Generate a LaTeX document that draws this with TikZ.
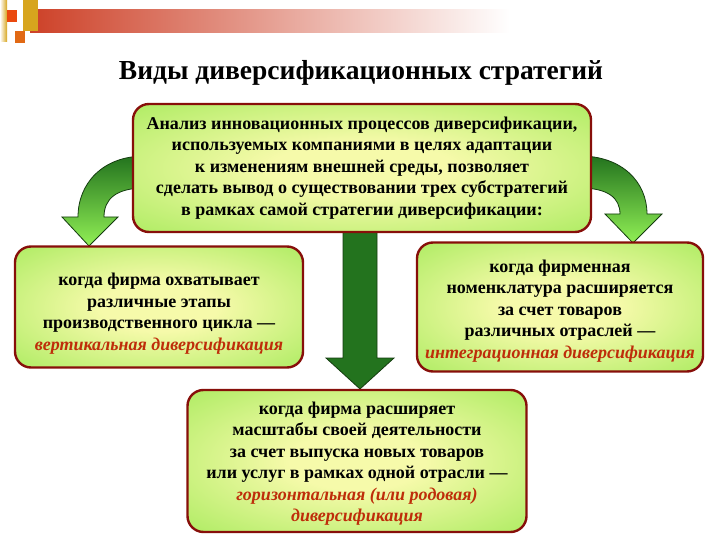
\documentclass[tikz,border=0pt]{standalone}
\usepackage{fontspec}
\setmainfont{Liberation Serif}
\usetikzlibrary{positioning,backgrounds,calc}
\definecolor{BoxRed}{RGB}{135,15,10}
\definecolor{LeafGreen}{RGB}{135,228,60}
\definecolor{PaleYellow}{RGB}{246,250,170}
\definecolor{ArrowDark}{RGB}{35,115,30}
\definecolor{ArrowLight}{RGB}{145,240,85}
\definecolor{ArrowEdge}{RGB}{20,60,15}
\definecolor{TermRed}{RGB}{190,45,10}
\definecolor{BarRed}{RGB}{205,65,40}
\definecolor{SquareGold}{RGB}{215,165,30}
\definecolor{SquareOrange}{RGB}{225,105,20}
\pgfdeclareradialshading{boxglow}{\pgfpoint{0bp}{0bp}}{color(0bp)=(PaleYellow); color(10bp)=(PaleYellow); color(50bp)=(LeafGreen); color(75bp)=(LeafGreen)}
\tikzset{
  strategybox/.style={draw=BoxRed,line width=2.4pt,rounded corners=16pt,shading=boxglow,align=center,font=\bfseries\fontsize{18}{21.5}\selectfont},
  bendarrow/.style={draw=ArrowEdge,line width=0.8pt,top color=ArrowDark,bottom color=ArrowLight},
  downarrow/.style={draw=ArrowEdge,line width=0.8pt,top color=ArrowDark,middle color=ArrowLight,bottom color=ArrowDark}
}

\begin{document}
\begin{tikzpicture}[x=1pt,y=-1pt]
\useasboundingbox (0,0) rectangle (720,540);

\fill[left color=BarRed,right color=white] (30,10) rectangle (510,33);
\fill[left color=white,right color=SquareGold] (0,0) rectangle (7,42);
\fill[SquareOrange!70!red] (7,10) rectangle (17,22);
\fill[SquareGold] (23,0) rectangle (38,31);
\fill[SquareOrange] (15,31) rectangle (25,43);

\node[font=\bfseries\fontsize{27.5}{30}\selectfont] (title) at (361,73) {Виды диверсификационных стратегий};

\node[strategybox,minimum width=458pt,minimum height=128pt] (an) at (362,168)
  {Анализ инновационных процессов диверсификации,\\
   используемых компаниями в целях адаптации\\
   к изменениям внешней среды, позволяет\\
   сделать вывод о существовании трех субстратегий\\
   в рамках самой стратегии диверсификации:};

\node[strategybox,minimum width=288pt,minimum height=121pt] (vert) at (159,307)
  {\rule{0pt}{26pt}когда фирма охватывает\\
   различные этапы\\
   производственного цикла ---\\
   \textcolor{TermRed}{\itshape вертикальная диверсификация}};

\node[strategybox,minimum width=286pt,minimum height=129pt] (integ) at (560,307)
  {\rule{0pt}{20pt}когда фирменная\\
   номенклатура расширяется\\
   за счет товаров\\
   различных отраслей ---\\
   \textcolor{TermRed}{\itshape интеграционная диверсификация}};

\node[strategybox,minimum width=339pt,minimum height=142pt] (horiz) at (357,461)
  {\rule{0pt}{18pt}когда фирма расширяет\\
   масштабы своей деятельности\\
   за счет выпуска новых товаров\\
   или услуг в рамках одной отрасли ---\\
   \textcolor{TermRed}{\itshape горизонтальная (или родовая)}\\
   \textcolor{TermRed}{\itshape диверсификация}};

\begin{pgfonlayer}{background}
\draw[bendarrow] (145,156) .. controls (102,156) and (78,184) .. (78,217)
  -- (62,217) -- (89,246) -- (118,217) -- (104,217)
  .. controls (104,199) and (116,188) .. (145,188) -- cycle;
\draw[bendarrow] (580,156) .. controls (622,156) and (647,182) .. (647,214)
  -- (662,214) -- (633,243) -- (605,214) -- (620,214)
  .. controls (620,198) and (608,188) .. (580,188) -- cycle;
\draw[downarrow] (343,225) -- (377,225) -- (377,358) -- (394,358) -- (360,389)
  -- (326,358) -- (343,358) -- cycle;
\end{pgfonlayer}
\end{tikzpicture}
\end{document}
